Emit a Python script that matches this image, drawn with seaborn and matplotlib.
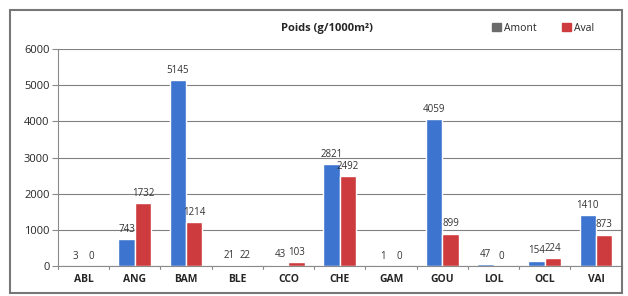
import pandas as pd
import matplotlib.pyplot as plt
import seaborn as sns
from matplotlib.patches import Patch, Rectangle

# -----------------------------
# Data
# -----------------------------
stations = ["ABL", "ANG", "BAM", "BLE", "CCO", "CHE", "GAM", "GOU", "LOL", "OCL", "VAI"]
amont = [3, 743, 5145, 21, 43, 2821, 1, 4059, 47, 154, 1410]
aval = [0, 1732, 1214, 22, 103, 2492, 0, 899, 0, 224, 873]

df = pd.DataFrame({
    "station": stations * 2,
    "poids": amont + aval,
    "site": ["Amont"] * len(stations) + ["Aval"] * len(stations),
})

blue = "#3D74CF"
red = "#CE3B3E"

sns.set_style("white")
plt.rcParams["font.family"] = ["Open Sans", "DejaVu Sans"]

fig = plt.figure(figsize=(6.28, 2.96), dpi=100)
ax = fig.add_axes([0.092, 0.101, 0.898, 0.733])

sns.barplot(data=df, x="station", y="poids", hue="site", order=stations,
            hue_order=["Amont", "Aval"], palette=[blue, red],
            width=0.64, gap=0, ax=ax, legend=False, saturation=1)

for cont in ax.containers:
    ax.bar_label(cont, fmt="%d", fontsize=7, padding=3, color="#333333")

ax.set_ylim(0, 6000)
ax.set_xlim(-0.5, len(stations) - 0.5)
ax.set_yticks(range(0, 6001, 1000))
ax.yaxis.grid(True, color="#808080", linewidth=0.8)
ax.set_axisbelow(True)
ax.set_xlabel("")
ax.set_ylabel("")

for side in ["top", "right"]:
    ax.spines[side].set_visible(False)
ax.spines["left"].set_color("#8a8a8a")
ax.spines["bottom"].set_color("#8a8a8a")

ax.tick_params(axis="y", labelsize=8, length=4, color="#8a8a8a", left=True, pad=2)
ax.tick_params(axis="x", labelsize=7.5, length=0, pad=6)
for lbl in ax.get_xticklabels():
    lbl.set_fontweight("bold")

# tick marks between categories, Excel style
for i in range(len(stations) + 1):
    ax.plot([i - 0.5, i - 0.5], [0, -70], color="#8a8a8a", lw=0.8, clip_on=False)

fig.text(0.52, 0.905, "Poids (g/1000m²)", ha="center", va="center",
         fontsize=8, fontweight="bold")

handles = [Patch(color="#6b6b6b", label="Amont"), Patch(color=red, label="Aval")]
fig.legend(handles=handles, loc="center", bbox_to_anchor=(0.865, 0.905), ncol=2,
           frameon=False, fontsize=7.5, handlelength=0.8, handleheight=0.8,
           columnspacing=2.5, handletextpad=0.3)

fig.patches.append(Rectangle((0.016, 0.01), 0.975, 0.955, transform=fig.transFigure,
                             fill=False, edgecolor="#777777", linewidth=1.5))

fig.savefig("out.png", dpi=100)
plt.close()
